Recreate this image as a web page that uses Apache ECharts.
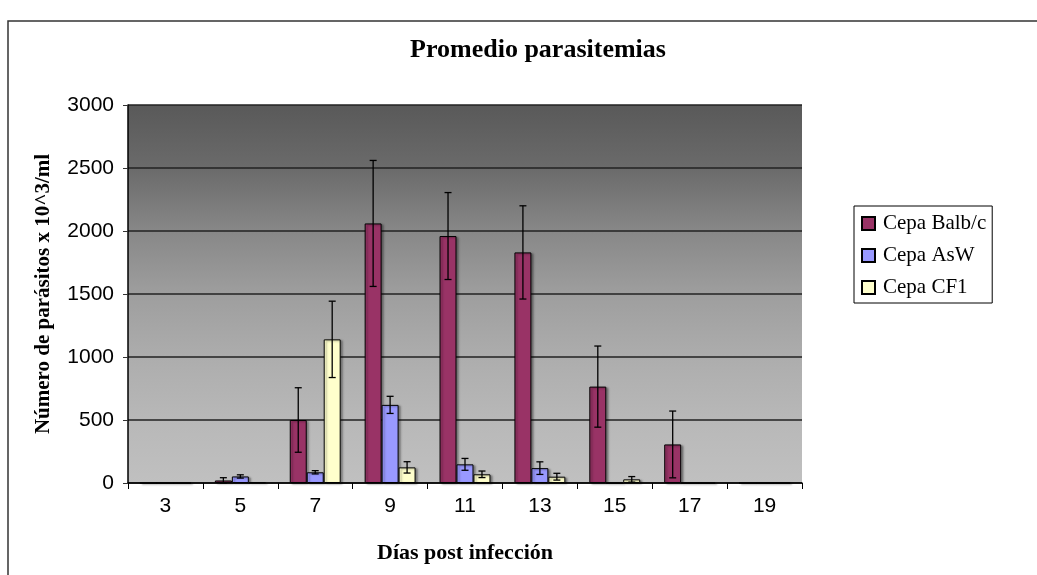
<!DOCTYPE html>
<html>
<head>
<meta charset="utf-8">
<script src="https://cdn.jsdelivr.net/npm/echarts@6/dist/echarts.min.js"></script>
<style>html,body{margin:0;padding:0;background:#fff}#c{width:1037px;height:575px}</style>
</head>
<body>
<div id="c"></div>
<script>
const categories = ['3','5','7','9','11','13','15','17','19'];
const seriesNames = ['Cepa Balb/c','Cepa AsW','Cepa CF1'];
const balb = [0, 20, 500, 2060, 1960, 1830, 765, 306, 0];
const balbErr = [0, 22, 256, 500, 345, 370, 322, 265, 0];
const asw = [0, 52, 85, 620, 148, 118, 0, 0, 0];
const aswErr = [0, 13, 13, 68, 47, 50, 0, 0, 0];
const cf1 = [0, 5, 1140, 124, 69, 50, 29, 0, 0];
const cf1Err = [0, 0, 303, 45, 26, 27, 22, 0, 0];
const yTicks = [0, 500, 1000, 1500, 2000, 2500, 3000];

const colors = ['#993366', '#9999ff', '#ffffcc'];
const values = [balb, asw, cf1];
const errs = [balbErr, aswErr, cf1Err];
const GAP = 0.32;

const chart = echarts.init(document.getElementById('c'), null, {renderer: 'canvas'});

function errSeries(k) {
  return {
    type: 'custom',
    name: seriesNames[k] + ' err',
    z: 5,
    silent: true,
    data: values[k].map((v, i) => [i, v, errs[k][i]]),
    renderItem: function (params, api) {
      const i = api.value(0), v = api.value(1), e = api.value(2);
      if (!e) return;
      const catW = api.size([1, 0])[0];
      const bw = catW * (1 - GAP) / 3;
      const c = api.coord([i, v]);
      const x = c[0] + (k - 1) * bw;
      const top = api.coord([i, v + e])[1];
      const bot = api.coord([i, Math.max(0, v - e)])[1];
      const hw = 3.5;
      const st = {stroke: '#000', lineWidth: 1.3};
      return {
        type: 'group',
        children: [
          {type: 'line', shape: {x1: x, y1: top, x2: x, y2: bot}, style: st},
          {type: 'line', shape: {x1: x - hw, y1: top, x2: x + hw, y2: top}, style: st},
          {type: 'line', shape: {x1: x - hw, y1: bot, x2: x + hw, y2: bot}, style: st}
        ]
      };
    }
  };
}

const barSeries = values.map((arr, k) => ({
  type: 'bar',
  name: seriesNames[k],
  data: arr,
  barGap: '0%',
  barCategoryGap: (GAP * 100) + '%',
  itemStyle: {
    color: colors[k], borderColor: '#000', borderWidth: 1,
    shadowColor: 'rgba(0,0,0,0.35)', shadowOffsetX: 2, shadowOffsetY: 1, shadowBlur: 2
  },
  emphasis: {disabled: true}
}));

const option = {
  animation: false,
  backgroundColor: '#fff',
  title: {
    text: 'Promedio parasitemias',
    left: 533, top: 32, textAlign: 'center',
    textStyle: {fontFamily: 'Liberation Serif', fontWeight: 'bold', fontSize: 26, color: '#000'}
  },
  graphic: [{
    type: 'rect', shape: {x: 8, y: 21, width: 1200, height: 800},
    style: {fill: 'none', stroke: '#333', lineWidth: 1.5}, silent: true, z: -10
  }],
  legend: {
    orient: 'vertical',
    left: 854, top: 206,
    data: seriesNames,
    itemWidth: 13, itemHeight: 13, itemGap: 11,
    padding: [7, 6, 5, 7],
    borderColor: '#000', borderWidth: 1,
    backgroundColor: '#fff',
    icon: 'rect',
    textStyle: {fontFamily: 'Liberation Serif', fontSize: 21, color: '#000', lineHeight: 21, padding: [0, 0, 0, 3]}
  },
  grid: {
    left: 128, right: 235, top: 105, bottom: 92,
    show: true, borderWidth: 0,
    backgroundColor: new echarts.graphic.LinearGradient(0, 0, 0, 1, [
      {offset: 0, color: '#595959'},
      {offset: 0.17, color: '#6b6b6b'},
      {offset: 0.33, color: '#878787'},
      {offset: 0.5, color: '#9e9e9e'},
      {offset: 0.67, color: '#adadad'},
      {offset: 0.83, color: '#b8b8b8'},
      {offset: 1, color: '#c0c0c0'}
    ])
  },
  xAxis: {
    type: 'category',
    data: categories,
    name: 'Días post infección',
    nameLocation: 'middle', nameGap: 59,
    nameTextStyle: {fontFamily: 'Liberation Serif', fontWeight: 'bold', fontSize: 22, color: '#000'},
    axisLine: {lineStyle: {color: '#000', width: 1.5}},
    axisTick: {show: true, length: 6, lineStyle: {color: '#000', width: 1}},
    axisLabel: {fontFamily: 'Liberation Sans', fontSize: 21, color: '#000', margin: 13}
  },
  yAxis: {
    type: 'value',
    min: yTicks[0], max: yTicks[yTicks.length - 1], interval: 500,
    name: 'Número de parásitos x 10^3/ml',
    nameLocation: 'middle', nameGap: 74,
    nameTextStyle: {fontFamily: 'Liberation Serif', fontWeight: 'bold', fontSize: 21, color: '#000'},
    axisLine: {show: true, lineStyle: {color: '#000', width: 1.5}},
    axisTick: {show: true, length: 5, lineStyle: {color: '#333', width: 1}},
    axisLabel: {fontFamily: 'Liberation Sans', fontSize: 21, color: '#000', margin: 14,
      formatter: v => String(v)},
    splitLine: {show: true, lineStyle: {color: '#222', width: 1.5}}
  },
  series: barSeries.concat([0, 1, 2].map(errSeries))
};
chart.setOption(option);
</script>
</body>
</html>
